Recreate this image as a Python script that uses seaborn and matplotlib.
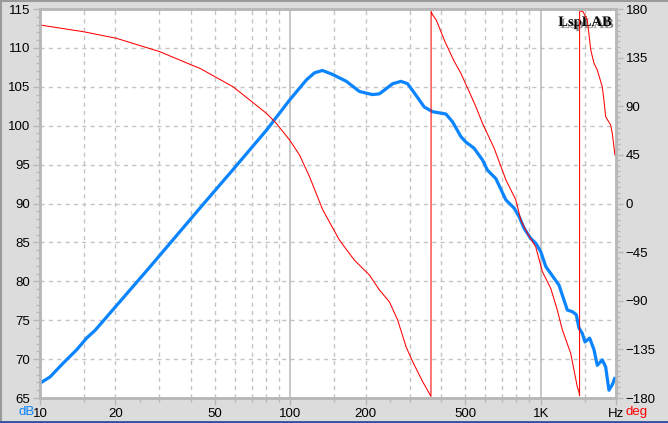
import numpy as np
import pandas as pd
import matplotlib
matplotlib.use("Agg")
import matplotlib.pyplot as plt
import matplotlib.patheffects as pe
from matplotlib.lines import Line2D
from matplotlib.ticker import FixedLocator, NullFormatter, MultipleLocator
import seaborn as sns

# SPL response (Hz, dB)
spl_freq = [10, 10.96, 12.39, 14.01, 15.35, 16.6, 27.4, 43.5, 58.8, 80.4, 99.3, 116, 124.9,
            134.4, 147.3, 167.5, 188.8, 212.8, 227, 256.3, 276.7, 294.1, 317.8, 342.8, 370,
            418.4, 444.5, 480, 502.5, 542, 585.6, 612.5, 662, 726.4, 783.9, 820.4, 859, 912.8,
            956, 1001, 1048, 1131, 1184, 1221, 1278, 1338, 1388, 1422, 1467, 1503, 1569,
            1633, 1683, 1762, 1818, 1874, 1932, 1975]
spl_db = [66.9, 67.7, 69.5, 71.2, 72.7, 73.7, 81.8, 89.4, 94.3, 99.45, 103.3, 105.9, 106.8,
          107.1, 106.6, 105.7, 104.4, 104.0, 104.1, 105.4, 105.7, 105.4, 103.9, 102.4, 101.8,
          101.5, 100.5, 98.6, 97.9, 97.1, 95.6, 94.3, 93.2, 90.45, 89.4, 88.3, 86.8, 85.5,
          84.9, 83.8, 81.9, 80.4, 79.5, 78.2, 76.3, 76.1, 75.7, 74.0, 73.3, 72.2, 72.7,
          71.2, 69.2, 69.9, 69.0, 66.0, 66.7, 67.5]

# phase response (Hz, deg), wrapped
ph_freq = [10, 14.9, 20.2, 30.1, 40.3, 43.5, 59.0, 68.8, 80.2, 87.9, 99.3, 108.8, 119.3,
           134.8, 157, 180, 207, 226.9, 248.6, 268.3, 289.8, 307.9, 337.6, 364.6, 365.0,
           369, 382.8, 412, 448.6, 480, 518.2, 551, 585.6, 652, 726.4, 795.7, 832.9, 885,
           955, 1016, 1097, 1165, 1221, 1318, 1359, 1400, 1422, 1430, 1431, 1476, 1536, 1585,
           1633, 1683, 1762, 1789, 1818, 1903, 1932, 1980]
ph_deg = [165.2, 159.0, 152.9, 140.5, 128.2, 125.1, 108.1, 95.8, 83.5, 74.2, 58.8, 44.9, 24.8,
          -6.0, -33.8, -52.3, -66.2, -80.0, -90.9, -107.8, -132.5, -146.3, -164.8, -178.5, 178.0,
          175.0, 169.8, 151.3, 132.8, 120.5, 103.5, 89.6, 74.2, 51.1, 21.8, 3.3, -15.3, -27.6,
          -40.0, -63.1, -78.5, -98.5, -117.0, -138.6, -154.3, -169.5, -174.2, -178.0, 178.5,
          177.5, 169.8, 142.1, 129.8, 123.6, 108.1, 95.8, 80.3, 72.6, 65.0, 44.9]

x_labels = {10: "10", 20: "20", 50: "50", 100: "100", 200: "200", 500: "500", 1000: "1K", 2000: "Hz"}
x_grid = [15, 20, 30, 40, 50, 60, 70, 80, 90, 150, 200, 300, 400, 500, 600, 700, 800, 900, 1500]

spl = pd.DataFrame({"freq": spl_freq, "db": spl_db})
phase = pd.DataFrame({"freq": ph_freq, "deg": ph_deg})

plt.rcParams["font.family"] = ["Liberation Sans", "DejaVu Sans"]
bg = "#DCDCDC"
axc = "#B8B8B8"

fig = plt.figure(figsize=(6.68, 4.23), dpi=100, facecolor=bg)
ax = fig.add_axes([0.0599, 0.0591, 0.8623, 0.9196])
ax.set_facecolor("white")
ax2 = ax.twinx()

sns.lineplot(data=spl, x="freq", y="db", ax=ax, color="#0A84FF", linewidth=2.3,
             estimator=None, sort=False, zorder=3)
sns.lineplot(data=phase, x="freq", y="deg", ax=ax2, color="#FF0000", linewidth=0.75,
             estimator=None, sort=False, zorder=2)

ax.set_xscale("log")
ax.set_xlim(10, 2000)
ax.set_ylim(65, 115)
ax2.set_ylim(-180, 180)

ax.xaxis.set_major_locator(FixedLocator(list(x_labels.keys())))
ax.set_xticklabels(list(x_labels.values()))
ax.xaxis.set_minor_locator(FixedLocator(x_grid + [25, 250, 2000]))
ax.xaxis.set_minor_formatter(NullFormatter())
ax.yaxis.set_major_locator(MultipleLocator(5))
ax.yaxis.set_minor_locator(MultipleLocator(1))
ax2.yaxis.set_major_locator(MultipleLocator(45))
ax2.yaxis.set_minor_locator(MultipleLocator(5))

for v in x_grid:
    ax.axvline(v, color="#C4C4C4", linewidth=1, linestyle=(0, (3, 3)), zorder=1)
for v in [100, 1000]:
    ax.axvline(v, color="#BEBEBE", linewidth=1.2, zorder=1)
ax.grid(axis="y", color="#C4C4C4", linewidth=1, linestyle=(0, (3, 3)))
ax.set_axisbelow(True)

for a in (ax, ax2):
    for s in a.spines.values():
        s.set_color(axc)
        s.set_linewidth(1.8)
    a.tick_params(which="both", colors=axc, labelcolor="black", labelsize=9.5, direction="out")
    a.tick_params(which="major", length=5, width=1)
    a.tick_params(which="minor", length=3, width=1)
    a.set_xlabel("")
    a.set_ylabel("")
ax.tick_params(axis="x", pad=2)
ax.tick_params(axis="y", pad=2)
ax2.tick_params(axis="y", pad=2)

fig.text(0.027, 0.019, "dB", color="#0A84FF", fontsize=9.5, ha="left", va="baseline")
fig.text(0.936, 0.019, "deg", color="#FF0000", fontsize=9.5, ha="left", va="baseline")

ax.text(0.993, 0.982, "LspLAB", transform=ax.transAxes, ha="right", va="top",
        fontsize=10.5, fontweight="bold", family="Liberation Serif", color="black", zorder=5,
        path_effects=[pe.withSimplePatchShadow(offset=(1.5, -1.5), shadow_rgbFace="#808080", alpha=0.9)])

# window frame
fig.add_artist(Line2D([0, 1], [0.998, 0.998], color="#9A9A9A", linewidth=1.5, transform=fig.transFigure))
fig.add_artist(Line2D([0.001, 0.001], [0, 1], color="#9A9A9A", linewidth=1.5, transform=fig.transFigure))
fig.add_artist(Line2D([0, 1], [0.002, 0.002], color="#2F4FA0", linewidth=2, transform=fig.transFigure))

plt.savefig("out.png", dpi=100, facecolor=bg)
